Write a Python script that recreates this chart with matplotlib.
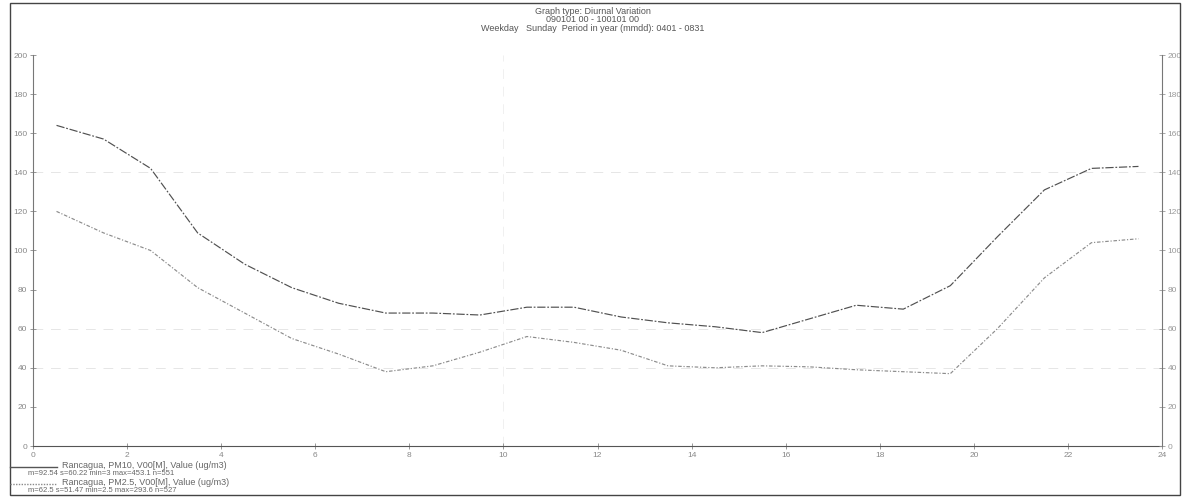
import matplotlib
matplotlib.use("Agg")
import matplotlib.pyplot as plt
from matplotlib.lines import Line2D

plt.rcParams['font.family'] = ['Liberation Sans', 'DejaVu Sans']

hours = [0.5, 1.5, 2.5, 3.5, 4.5, 5.5, 6.5, 7.5, 8.5, 9.5, 10.5, 11.5,
         12.5, 13.5, 14.5, 15.5, 16.5, 17.5, 18.5, 19.5, 20.5, 21.5, 22.5, 23.5]
pm10 = [164, 157, 142, 109, 93, 81, 73, 68, 68, 67, 71, 71,
        66, 63, 61, 58, 65, 72, 70, 82, 107, 131, 142, 143]
pm25 = [120, 109, 100, 81, 68, 55, 47, 38, 41, 48, 56, 53,
        49, 41, 40, 41, 40.5, 39, 38, 37, 60, 86, 104, 106]

x_ticks = list(range(0, 25, 2))
y_ticks = list(range(0, 201, 20))

title_lines = ["Graph type: Diurnal Variation",
               "090101 00 - 100101 00",
               "Weekday   Sunday  Period in year (mmdd): 0401 - 0831"]
leg1 = "Rancagua, PM10, V00[M], Value (ug/m3)"
stat1 = "m=92.54 s=60.22 min=3 max=453.1 n=551"
leg2 = "Rancagua, PM2.5, V00[M], Value (ug/m3)"
stat2 = "m=62.5 s=51.47 min=2.5 max=293.6 n=527"

W, H = 1185, 498
fig = plt.figure(figsize=(W / 100, H / 100), dpi=100)
fig.patch.set_facecolor('white')

# outer frame
fig.add_artist(plt.Rectangle((10 / W, 3 / H), 1170 / W, 492 / H, transform=fig.transFigure,
                             fill=False, edgecolor='#444444', lw=1.0))

ax = fig.add_axes([33 / W, (H - 446) / H, (1162 - 33) / W, (446 - 55) / H])
ax.set_xlim(0, 24)
ax.set_ylim(0, 200)

for y in [140, 60, 40]:
    ax.axhline(y, color='#e6e6e6', lw=0.7, ls=(0, (10, 8)), zorder=0)
ax.axvline(10, color='#f0f0f0', lw=0.7, ls=(0, (10, 8)), zorder=0)

ax.plot(hours, pm10, color='#505050', lw=0.85, ls=(0, (7, 1.5, 1.5, 1.5)))
ax.plot(hours, pm25, color='#8c8c8c', lw=0.85, ls=(0, (3, 1.5, 1, 1.5)))

for s in ['top', 'right']:
    ax.spines[s].set_visible(False)
ax.spines['left'].set_color('#777777')
ax.spines['bottom'].set_color('#555555')

ax.set_xticks(x_ticks)
ax.set_yticks(y_ticks)
ax.tick_params(axis='both', labelsize=6, colors='#888888', length=4, width=0.6,
               direction='inout', pad=2)

ax2 = ax.twinx()
ax2.set_ylim(0, 200)
ax2.set_yticks(y_ticks)
for s in ['top', 'left', 'bottom']:
    ax2.spines[s].set_visible(False)
ax2.spines['right'].set_color('#777777')
ax2.tick_params(axis='y', labelsize=6, colors='#999999', length=4, width=0.6,
                direction='inout', pad=2)

# title
for i, t in enumerate(title_lines):
    fig.text(0.5, (H - 11 - i * 8.8) / H, t, ha='center', va='center',
             fontsize=6.5, color='#555555')

# legend
fig.add_artist(Line2D([10 / W, 57 / W], [(H - 467) / H] * 2, transform=fig.transFigure,
                      color='#555555', lw=1.0))
fig.text(62 / W, (H - 465) / H, leg1, fontsize=6.5, color='#666666', va='center')
fig.text(28 / W, (H - 473) / H, stat1, fontsize=5.5, color='#666666', va='center')
fig.add_artist(Line2D([10 / W, 57 / W], [(H - 484) / H] * 2, transform=fig.transFigure,
                      color='#8a8a8a', lw=1.0, ls=(0, (1, 1))))
fig.text(62 / W, (H - 482) / H, leg2, fontsize=6.5, color='#666666', va='center')
fig.text(28 / W, (H - 490) / H, stat2, fontsize=5.5, color='#666666', va='center')

fig.savefig('out.png', dpi=100)
